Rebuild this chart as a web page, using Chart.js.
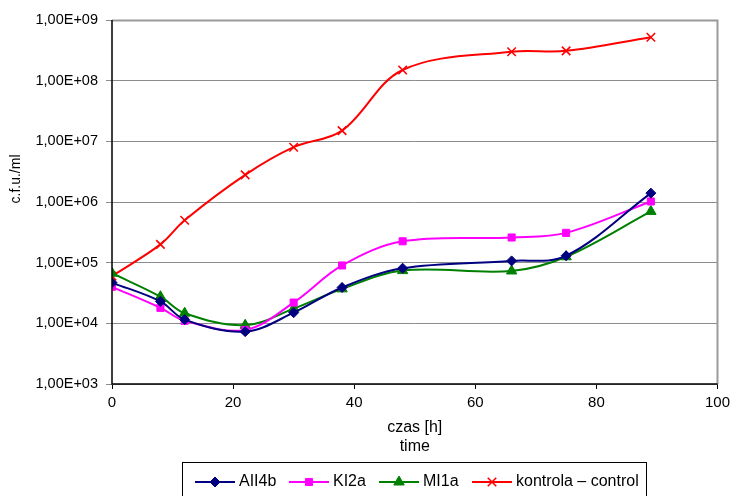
<!DOCTYPE html>
<html>
<head>
<meta charset="utf-8">
<script src="https://cdn.jsdelivr.net/npm/chart.js@4/dist/chart.umd.min.js"></script>
<style>
  html, body { margin: 0; padding: 0; background: #fff; }
  #wrap { width: 735px; height: 496px; }
</style>
</head>
<body>
<div id="wrap"><canvas id="c" width="735" height="496"></canvas></div>
<script>
// sampling times [h]
const hours = [0, 8, 12, 22, 30, 38, 48, 66, 75, 89];

// colony counts, c.f.u./ml
const aii4b   = [4.7e4, 2.3e4, 1.15e4, 7.3e3, 1.5e4, 3.9e4, 8.1e4, 1.07e5, 1.3e5, 1.4e6];
const ki2a    = [4.0e4, 1.8e4, 1.1e4, 7.8e3, 2.2e4, 9.0e4, 2.25e5, 2.6e5, 3.1e5, 1.02e6];
const mi1a    = [6.7e4, 2.75e4, 1.47e4, 9.3e3, 1.75e4, 3.7e4, 7.4e4, 7.3e4, 1.25e5, 7.0e5];
const control = [6.0e4, 2.0e5, 5.0e5, 2.8e6, 8.0e6, 1.5e7, 1.5e8, 3.0e8, 3.1e8, 5.2e8];

const seriesNames = ['AII4b', 'KI2a', 'MI1a', 'kontrola \u2013 control'];
const yTicks = [1e3, 1e4, 1e5, 1e6, 1e7, 1e8, 1e9];
const xTitleLines = ['czas [h]', 'time'];
const yTitle = 'c.f.u./ml';

const FONT = '"Liberation Sans", Arial, sans-serif';

function toPoints(arr) {
  return hours.map((h, i) => ({ x: h, y: arr[i] }));
}

function sciLabel(v) {
  const e = Math.round(Math.log10(v));
  const m = v / Math.pow(10, e);
  const exp = (e < 0 ? '-' : '+') + String(Math.abs(e)).padStart(2, '0');
  return m.toFixed(2).replace('.', ',') + 'E' + exp;
}

const styles = [
  { color: '#000080', point: 'rectRot', radius: 5 },
  { color: '#ff00ff', point: 'rect',    radius: 5 },
  { color: '#008000', point: 'triangle', radius: 6 },
  { color: '#ff0000', point: 'crossRot', radius: 6 }
];

const values = [aii4b, ki2a, mi1a, control];

const datasets = values.map((arr, i) => ({
  label: seriesNames[i],
  data: toPoints(arr),
  borderColor: styles[i].color,
  backgroundColor: styles[i].color,
  pointBackgroundColor: styles[i].color,
  pointBorderColor: styles[i].color,
  pointStyle: styles[i].point,
  pointRadius: styles[i].radius,
  pointBorderWidth: i === 3 ? 1.6 : 1,
  borderWidth: 2,
  tension: 0.35,
  fill: false
}));

// frame, axis titles and the boxed legend under the plot
const decorations = {
  id: 'decorations',
  afterDraw(chart) {
    const ctx = chart.ctx;
    const a = chart.chartArea;
    ctx.save();

    // plot frame top and right
    ctx.strokeStyle = '#9a9a9a';
    ctx.lineWidth = 2;
    ctx.beginPath();
    ctx.moveTo(a.left, a.top + 0.5);
    ctx.lineTo(a.right, a.top + 0.5);
    ctx.lineTo(a.right, a.bottom);
    ctx.stroke();

    // axis lines
    ctx.strokeStyle = '#000';
    ctx.lineWidth = 1.5;
    ctx.beginPath();
    ctx.moveTo(a.left, a.top);
    ctx.lineTo(a.left, a.bottom);
    ctx.lineTo(a.right, a.bottom);
    ctx.stroke();

    // axis titles
    ctx.fillStyle = '#000';
    ctx.font = '16px ' + FONT;
    ctx.textAlign = 'center';
    ctx.textBaseline = 'middle';
    const cx = (a.left + a.right) / 2;
    ctx.fillText(xTitleLines[0], cx, 428);
    ctx.fillText(xTitleLines[1], cx, 447);

    ctx.save();
    ctx.font = '14px ' + FONT;
    ctx.translate(16, 179);
    ctx.rotate(-Math.PI / 2);
    ctx.fillText(yTitle, 0, 0);
    ctx.restore();

    // legend box
    ctx.strokeStyle = '#000';
    ctx.lineWidth = 1;
    ctx.strokeRect(182.5, 462.5, 464, 40);

    const lineStarts = [195, 289, 379, 472];
    const yMid = 482;
    ctx.textAlign = 'left';
    ctx.font = '16px ' + FONT;
    chart.data.datasets.forEach((ds, i) => {
      const x0 = lineStarts[i];
      ctx.strokeStyle = ds.borderColor;
      ctx.lineWidth = 2;
      ctx.beginPath();
      ctx.moveTo(x0, yMid);
      ctx.lineTo(x0 + 40, yMid);
      ctx.stroke();
      ctx.fillStyle = ds.borderColor;
      ctx.lineWidth = ds.pointBorderWidth;
      Chart.helpers.drawPoint(ctx, {
        pointStyle: ds.pointStyle,
        radius: ds.pointRadius,
        rotation: 0,
        borderWidth: ds.pointBorderWidth
      }, x0 + 20, yMid);
      ctx.fillStyle = '#000';
      ctx.fillText(ds.label, x0 + 44, yMid);
    });

    ctx.restore();
  }
};

new Chart(document.getElementById('c'), {
  type: 'line',
  data: { datasets },
  plugins: [decorations],
  options: {
    responsive: false,
    animation: false,
    layout: { padding: { left: 0, top: 20, right: 16, bottom: 0 } },
    plugins: {
      legend: { display: false },
      tooltip: { enabled: false }
    },
    scales: {
      x: {
        type: 'linear',
        min: 0,
        max: 100,
        ticks: {
          stepSize: 20,
          color: '#000',
          padding: 5,
          font: { family: FONT, size: 15 }
        },
        grid: {
          drawOnChartArea: false,
          drawTicks: true,
          tickLength: 5,
          color: '#000'
        },
        border: { display: false },
        afterFit(scale) { scale.height = 112; }
      },
      y: {
        type: 'logarithmic',
        min: 1e3,
        max: 1e9,
        afterBuildTicks(scale) {
          scale.ticks = yTicks.map(v => ({ value: v }));
        },
        ticks: {
          color: '#000',
          padding: 8,
          font: { family: FONT, size: 14.5 },
          callback: (v) => sciLabel(v)
        },
        grid: {
          color: '#8c8c8c',
          lineWidth: 1,
          drawTicks: true,
          tickLength: 6
        },
        border: { display: false },
        afterFit(scale) { scale.width = 112; }
      }
    }
  }
});
</script>
</body>
</html>
